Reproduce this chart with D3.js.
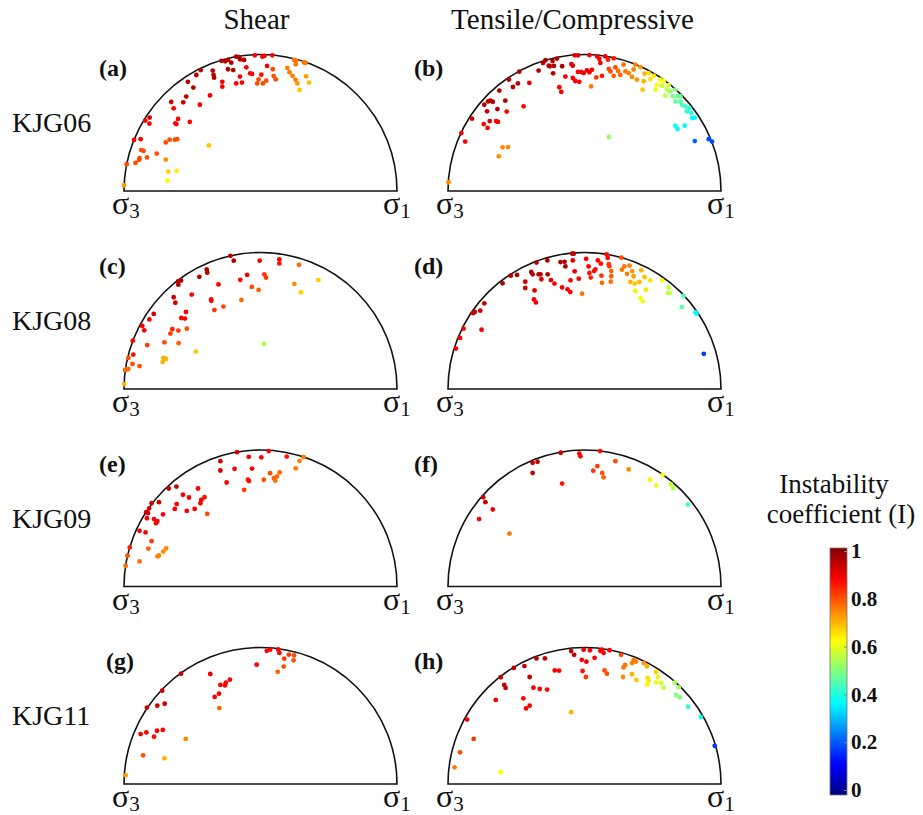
<!DOCTYPE html>
<html>
<head>
<meta charset="utf-8">
<script src="https://cdn.jsdelivr.net/npm/d3@7"></script>
<style>
  body { margin: 0; background: #fff; }
  svg { display: block; }
  text { font-family: "Liberation Serif", "Times New Roman", Times, serif; fill: #111; }
</style>
</head>
<body>
<div class="container"></div>
<script>
const w = 923
const h = 815
const r = 136.5

const colTitles = ["Shear", "Tensile/Compressive"]
const rowNames = ["KJG06", "KJG08", "KJG09", "KJG11"]
const panelLetters = ["(a)", "(b)", "(c)", "(d)", "(e)", "(f)", "(g)", "(h)"]
const barTicks = [0, 0.2, 0.4, 0.6, 0.8, 1]

// each point: [normal stress, % of the way from σ3 to σ1; shear stress, % of the diameter; instability coefficient I]
const shearKJG06 = [
  [35.7,47.7,.95],[37.1,47.5,.95],[38.1,48.0,.95],[39.3,47.0,.95],[41.1,49.2,.95],[42.1,49.0,.95],[42.6,48.2,.95],[44.0,48.0,.95],
  [47.9,49.7,.88],[50.7,49.2,.88],[51.5,49.5,.88],[54.3,49.7,.88],[44.8,45.3,.88],
  [38.1,44.6,.95],[40.0,44.3,.95],[32.5,44.1,.95],[28.1,44.3,.95],[26.5,42.5,.95],[32.8,42.5,.95],[33.0,41.5,.95],[23.4,40.0,.95],[25.4,37.9,.95],
  [36.0,40.0,.88],[36.0,38.2,.88],[42.5,41.9,.88],[41.1,39.4,.88],[43.2,39.7,.88],[46.2,43.1,.88],[46.9,42.9,.88],[52.4,45.8,.88],[50.3,42.6,.86],
  [49.3,40.9,.8],[48.8,39.4,.8],[50.9,39.4,.8],[52.1,40.4,.8],[54.5,44.6,.8],[54.8,42.1,.8],[55.6,40.9,.8],
  [31.5,35.0,.88],[27.8,31.6,.88],[22.8,34.6,.93],[21.7,32.5,.93],[17.3,32.6,.93],[18.2,30.3,.88],[19.8,26.4,.87],[18.8,24.8,.87],[19.2,24.5,.87],[24.1,25.3,.87],
  [7.8,25.8,.88],[9.4,26.9,.92],[9.3,24.7,.88],[6.1,19.0,.88],[3.7,18.7,.88],
  [15.3,17.8,.8],[16.7,18.8,.8],[18.6,18.8,.8],[19.5,19.0,.8],[6.3,15.0,.8],[7.2,14.7,.8],[5.7,12.0,.8],[5.5,11.4,.8],[4.2,10.3,.8],[8.4,12.3,.8],[12.0,13.7,.8],[1.0,9.8,.8],
  [15.3,11.5,.74],[31.1,16.7,.68],[16.2,7.1,.67],[19.3,7.4,.64],[15.9,3.8,.63],[0.0,2.1,.72],
  [62.3,48.0,.76],[63.1,47.7,.76],[62.9,46.4,.76],[65.9,47.1,.76],[66.5,46.9,.76],[59.8,45.1,.75],[60.6,43.5,.75],[61.7,42.2,.75],[62.8,40.8,.75],[63.5,39.4,.73],[66.7,42.0,.72],[67.8,39.7,.69],[64.3,37.0,.68]
]

const tensileKJG06 = [
  [0.2,3.2,.74],[4.9,21.2,.88],[6.3,18.1,.88],[8.8,26.5,.92],[13.1,24.5,.88],[14.5,23.1,.88],[15.3,25.6,.92],[17.6,25.6,.9],[18.3,25.3,.88],
  [14.3,29.2,.92],[13.3,31.6,.95],[14.7,32.8,.95],[15.5,33.1,.95],[16.4,32.7,.95],[18.1,30.0,.95],[18.8,36.8,.95],[21.0,33.1,.95],[21.5,29.1,.88],
  [22.3,40.8,.95],[23.8,38.1,.95],[25.6,39.4,.95],[26.1,43.7,.95],[27.7,31.0,.88],[29.8,39.6,.9],[33.2,44.1,.95],[34.8,46.9,.95],[35.7,47.9,.95],
  [36.9,45.9,.95],[37.3,45.7,.95],[38.3,47.6,.95],[38.8,45.8,.95],[38.5,43.1,.95],[39.9,48.5,.95],[41.8,45.7,.95],
  [40.8,38.0,.88],[41.5,36.3,.88],[43.0,41.9,.88],[45.2,46.5,.9],[45.7,45.9,.9],[46.4,49.7,.9],[47.6,49.7,.9],[45.7,41.4,.88],[46.6,40.3,.88],[48.1,40.0,.88],
  [47.6,43.6,.88],[48.8,43.6,.88],[49.7,43.2,.88],[50.9,44.2,.88],[51.8,49.8,.88],[51.8,43.5,.88],[52.7,44.4,.88],[54.6,49.3,.88],[55.4,48.4,.88],[55.8,46.9,.88],
  [54.3,41.6,.82],[52.4,38.3,.76],[56.4,42.2,.85],[57.6,49.3,.88],[58.6,48.1,.85],[58.9,44.7,.8],[59.5,43.8,.8],[60.7,48.6,.86],[60.7,42.2,.78],[61.3,45.3,.8],
  [62.3,44.0,.77],[63.1,42.5,.77],[64.3,46.3,.77],[65.0,43.8,.76],[66.2,43.2,.75],[67.4,41.8,.74],[68.0,44.5,.75],[68.6,46.3,.75],[69.2,40.8,.73],[70.5,45.4,.73],
  [71.7,40.2,.7],[71.3,37.1,.68],[72.0,43.0,.7],[73.5,43.2,.66],[74.1,41.0,.65],[75.4,42.2,.64],[76.0,37.1,.6],[76.6,38.9,.63],[77.8,40.8,.63],[79.0,40.2,.62],
  [79.6,34.9,.56],[80.2,37.1,.56],[81.4,36.5,.52],[82.3,34.7,.5],[83.3,37.1,.5],[84.2,34.7,.48],[85.1,32.8,.47],[85.7,31.6,.45],[86.9,31.0,.44],[87.5,29.2,.42],
  [88.4,30.4,.42],[89.1,28.6,.4],[89.4,26.7,.38],[90.4,26.9,.37],[83.3,23.9,.38],[84.1,22.7,.37],[86.7,23.9,.37],[90.4,18.3,.22],[95.5,19.0,.2],[96.7,18.1,.2],
  [58.9,19.8,.52],[20.0,16.0,.74],[22.0,16.1,.74],[18.6,12.7,.74],[78.4,38.5,.57],[80.8,38.8,.58],[83.3,32.8,.47],[85.1,34.7,.48]
]

const shearKJG08 = [
  [0.1,1.8,.7],[0.4,7.0,.77],[1.0,7.2,.77],[1.6,7.3,.77],[3.1,9.2,.8],[1.6,11.4,.8],[3.4,12.6,.86],[3.2,17.7,.88],[5.7,8.4,.8],[8.5,16.1,.82],
  [7.4,21.5,.88],[6.7,23.1,.88],[9.3,25.5,.88],[10.9,27.5,.92],[14.2,9.9,.7],[14.4,11.4,.7],[15.4,11.0,.7],[14.8,17.1,.8],[17.0,20.3,.82],[17.7,21.9,.85],
  [19.9,21.4,.82],[20.0,16.8,.78],[21.0,26.0,.88],[22.3,25.8,.87],[22.7,28.2,.88],[23.0,22.1,.8],[18.2,33.6,.92],[18.8,31.6,.92],[19.8,39.4,.95],[19.9,38.2,.95],
  [20.9,39.7,.95],[24.8,34.6,.88],[26.3,13.7,.68],[27.6,41.1,.95],[30.3,43.8,.95],[30.5,42.6,.95],[31.9,32.8,.88],[32.0,32.3,.88],[33.1,28.9,.82],[34.6,38.3,.88],
  [36.4,30.2,.8],[39.0,48.8,.95],[40.2,47.0,.95],[42.6,40.0,.88],[45.1,41.8,.88],[43.0,32.6,.77],[46.8,37.4,.8],[49.3,36.3,.78],[49.7,47.0,.88],[51.4,42.0,.82],
  [52.0,40.8,.82],[56.9,47.5,.88],[56.9,46.0,.86],[51.3,16.5,.55],[62.4,38.5,.73],[64.1,45.5,.77],[64.8,35.4,.67],[71.2,39.9,.67]
]

const tensileKJG08 = [
  [2.9,14.8,.88],[4.4,18.7,.88],[5.7,22.1,.88],[12.3,21.7,.88],[9.2,27.8,.92],[9.8,28.2,.92],[11.8,28.7,.92],[13.3,31.4,.92],[20.0,38.7,.95],[23.0,41.5,.95],
  [25.3,41.8,.95],[28.3,39.3,.92],[28.3,37.0,.92],[31.7,36.1,.9],[31.5,32.8,.88],[32.2,31.7,.88],[30.5,42.9,.95],[31.0,42.0,.95],[33.2,42.0,.95],[33.9,42.0,.95],
  [34.2,40.2,.9],[32.4,46.3,.95],[36.4,47.1,.95],[36.5,42.0,.95],[37.7,39.9,.9],[39.0,38.6,.88],[41.2,46.5,.95],[42.7,46.6,.95],[43.0,44.9,.95],[41.8,37.2,.88],
  [43.8,36.5,.88],[44.8,35.5,.88],[44.9,39.8,.88],[46.4,43.1,.9],[45.5,49.6,.95],[46.1,49.6,.95],[45.7,47.1,.9],[47.9,40.4,.88],[49.1,34.9,.76],[50.6,47.7,.88],
  [51.5,44.9,.88],[51.8,42.5,.86],[52.3,40.8,.84],[53.5,43.2,.86],[54.0,43.8,.86],[54.9,47.1,.88],[56.0,45.9,.86],[56.2,41.5,.82],[56.4,38.9,.77],[58.1,49.3,.87],
  [58.5,48.0,.87],[58.9,45.7,.82],[59.1,45.0,.82],[59.8,43.2,.78],[59.6,39.3,.77],[59.8,41.3,.78],[63.5,48.1,.8],[63.7,43.7,.76],[64.6,44.9,.76],[65.6,42.2,.75],
  [66.5,45.2,.75],[66.8,39.2,.7],[67.4,43.2,.73],[68.0,41.3,.72],[68.4,38.6,.68],[68.6,35.9,.64],[70.1,39.2,.69],[70.8,43.5,.7],[72.0,41.0,.69],[72.5,36.4,.65],
  [74.1,39.8,.65],[70.5,33.3,.63],[71.3,32.1,.6],[78.4,39.8,.62],[80.8,37.1,.57],[80.6,35.2,.56],[81.2,35.2,.56],[86.3,34.1,.46],[85.7,30.0,.46],[90.6,28.1,.38],
  [91.0,27.6,.38],[93.7,12.9,.18]
]

const shearKJG09 = [
  [0.6,7.6,.77],[1.3,11.3,.8],[2.1,14.3,.85],[5.7,9.2,.77],[5.7,20.4,.88],[7.9,19.8,.88],[10.1,16.6,.82],[8.9,13.9,.78],[12.3,11.0,.75],[12.8,11.4,.75],
  [14.4,12.8,.74],[15.4,14.0,.74],[8.4,25.0,.88],[8.1,27.2,.92],[8.8,26.9,.92],[9.2,28.6,.92],[10.1,30.5,.92],[11.0,24.7,.88],[11.7,23.2,.88],[12.2,23.9,.88],
  [14.3,26.4,.88],[12.8,30.9,.92],[16.4,35.9,.94],[19.2,36.6,.94],[18.6,28.4,.88],[19.3,30.2,.88],[21.6,33.6,.88],[23.8,32.6,.88],[23.0,27.7,.88],[25.9,28.4,.88],
  [27.1,35.9,.88],[28.0,30.5,.88],[28.3,31.7,.88],[29.5,32.7,.86],[30.5,26.6,.8],[35.3,45.9,.92],[35.3,42.5,.92],[37.6,38.1,.88],[40.5,43.1,.88],[41.4,49.2,.92],
  [45.7,47.5,.88],[46.9,43.2,.88],[45.4,39.1,.86],[45.8,38.6,.86],[44.0,35.4,.82],[50.3,47.3,.88],[53.0,49.6,.88],[51.2,39.1,.8],[53.5,41.5,.8],[54.9,39.7,.78],
  [55.4,38.8,.77],[56.0,40.3,.77],[57.0,41.8,.78],[59.6,47.6,.85],[62.9,43.3,.76],[64.3,46.0,.76],[65.8,47.4,.76]
]

const tensileKJG09 = [
  [11.4,24.7,.88],[12.9,32.7,.93],[13.7,30.9,.93],[16.4,28.2,.88],[22.5,19.4,.76],[31.0,45.3,.93],[32.8,45.7,.93],[31.0,41.6,.93],[41.3,49.0,.92],[41.8,37.7,.86],
  [48.1,48.7,.88],[48.5,47.7,.88],[55.7,49.6,.86],[53.2,42.4,.82],[54.7,44.1,.82],[56.5,41.6,.8],[57.0,40.0,.78],[61.3,45.9,.8],[66.2,42.9,.74],[74.0,39.1,.64],
  [76.3,37.0,.6],[78.6,40.9,.63],[81.6,37.5,.57],[82.4,36.0,.55],[87.9,30.0,.44]
]

const shearKJG11 = [
  [0.6,3.2,.72],[7.0,10.5,.8],[14.8,9.4,.7],[22.6,16.5,.74],[6.1,18.3,.88],[8.2,18.9,.88],[11.0,17.3,.86],[12.1,19.5,.88],[14.2,19.8,.88],[8.4,28.0,.92],
  [12.2,28.7,.92],[14.9,29.4,.92],[14.0,34.2,.93],[20.9,40.4,.93],[31.6,40.3,.9],[33.2,31.9,.88],[34.8,33.1,.88],[34.9,27.8,.78],[35.3,36.3,.88],[37.0,36.1,.88],
  [37.3,37.1,.88],[38.8,38.2,.88],[48.6,43.7,.88],[52.3,48.8,.88],[53.5,49.2,.88],[56.5,49.3,.88],[56.9,48.0,.87],[58.7,45.9,.82],[60.4,47.4,.82],[62.3,47.1,.8],
  [62.1,45.3,.8],[58.5,43.0,.8],[56.3,41.1,.78]
]

const tensileKJG11 = [
  [2.4,6.1,.76],[4.4,11.6,.8],[9.4,16.5,.82],[7.0,23.6,.88],[17.5,30.8,.88],[19.3,39.1,.93],[20.6,36.3,.93],[21.1,35.2,.93],[24.1,42.5,.94],[28.0,43.2,.94],
  [29.9,39.2,.93],[32.4,46.0,.94],[35.5,46.0,.94],[27.6,31.4,.88],[29.9,28.7,.88],[28.6,27.7,.88],[31.3,35.3,.88],[33.6,34.8,.88],[36.3,34.6,.87],[39.1,41.6,.88],
  [40.7,41.5,.88],[45.1,48.7,.93],[46.2,47.3,.93],[49.7,49.2,.9],[52.0,49.0,.88],[49.0,45.5,.88],[50.7,44.8,.88],[49.3,41.4,.86],[50.5,39.2,.82],[53.7,46.2,.88],
  [55.8,48.8,.88],[56.4,49.2,.88],[57.0,48.0,.87],[59.2,49.0,.87],[45.1,26.3,.7],[57.3,41.6,.8],[58.2,40.4,.8],[63.4,47.3,.8],[64.3,42.7,.76],[64.9,43.6,.76],
  [64.1,39.2,.74],[67.4,44.3,.75],[68.0,45.5,.75],[68.9,44.8,.75],[67.4,40.2,.7],[69.0,38.1,.68],[71.7,44.3,.73],[72.9,43.1,.7],[73.1,38.8,.66],[73.5,37.9,.65],
  [73.0,36.4,.64],[76.2,41.1,.67],[76.9,39.2,.64],[76.2,37.2,.6],[78.1,37.0,.58],[79.0,35.3,.56],[83.0,37.1,.54],[84.5,35.4,.53],[83.5,32.6,.5],[84.9,31.7,.5],
  [87.9,28.3,.42],[92.6,24.5,.38],[97.7,14.0,.18],[19.3,4.3,.63]
]

const panels = [shearKJG06, tensileKJG06, shearKJG08, tensileKJG08, shearKJG09, tensileKJG09, shearKJG11, tensileKJG11]

// MATLAB jet colormap
const jet = t => {
  const c = v => Math.max(0, Math.min(1, v))
  const rr = c(1.5 - Math.abs(4 * t - 3))
  const gg = c(1.5 - Math.abs(4 * t - 2))
  const bb = c(1.5 - Math.abs(4 * t - 1))
  return d3.rgb(rr * 255, gg * 255, bb * 255).formatHex()
}
const color = d3.scaleSequential(jet).domain([0, 1])

const colLeft = [124, 448]
const rowBase = [191, 389, 586.5, 784]

const svg = d3.select(".container")
              .append("svg")
              .attr("width", w)
              .attr("height", h)

svg.selectAll(".col-title")
   .data(colTitles)
   .enter()
   .append("text")
     .attr("class", "col-title")
     .attr("x", (d, i) => colLeft[i] + r - 4 - 8 * i)
     .attr("y", 29)
     .attr("text-anchor", "middle")
     .style("font-size", "29px")
     .text(d => d)

svg.selectAll(".row-name")
   .data(rowNames)
   .enter()
   .append("text")
     .attr("class", "row-name")
     .attr("x", 12)
     .attr("y", (d, i) => rowBase[i] - 59)
     .style("font-size", "28px")
     .text(d => d)

panels.forEach((data, k) => {
  const row = Math.floor(k / 2)
  const col = k % 2
  const x = d3.scaleLinear().domain([0, 100]).range([colLeft[col], colLeft[col] + 2 * r])
  const y = d3.scaleLinear().domain([0, 50]).range([rowBase[row], rowBase[row] - r])

  const g = svg.append("g").attr("class", "panel")

  const p = d3.path()
  p.moveTo(x(0), y(0))
  p.arc(x(50), y(0), x(100) - x(50), Math.PI, 2 * Math.PI)
  p.closePath()
  g.append("path")
     .attr("d", p.toString())
     .attr("fill", "none")
     .attr("stroke", "#111")
     .attr("stroke-width", 1.6)

  g.selectAll("circle")
     .data(data)
     .enter()
     .append("circle")
       .attr("cx", d => x(d[0]))
       .attr("cy", d => y(d[1]))
       .attr("r", 2.4)
       .style("fill", d => color(d[2]))

  g.append("text")
     .attr("x", col === 0 ? x(0) - 25 + (row === 3 ? 7 : 0) : x(0) - 34)
     .attr("y", y(0) - 115)
     .style("font-size", "24px")
     .style("font-weight", "bold")
     .text(panelLetters[k])

  const sig = [[0, "3", -12], [100, "1", -14]]
  sig.forEach(s => {
    const t = g.append("text")
               .attr("x", x(s[0]) + s[2])
               .attr("y", y(0) + 23)
               .style("font-size", "32px")
    t.append("tspan").text("σ")
    t.append("tspan").attr("dy", 4).style("font-size", "21px").text(s[1])
  })
})

// colour bar
const barX = 830
const barW = 17
const barScale = d3.scaleLinear().domain([0, 1]).range([790, 551])

const defs = svg.append("defs")
const grad = defs.append("linearGradient")
                 .attr("id", "jet-grad")
                 .attr("x1", 0).attr("y1", 1)
                 .attr("x2", 0).attr("y2", 0)
grad.selectAll("stop")
    .data(d3.range(0, 1.0001, 0.02))
    .enter()
    .append("stop")
      .attr("offset", d => d)
      .attr("stop-color", d => color(d))

svg.append("rect")
   .attr("x", barX)
   .attr("y", 548)
   .attr("width", barW)
   .attr("height", 247)
   .attr("fill", "url(#jet-grad)")
   .attr("stroke", "#777")
   .attr("stroke-width", 0.8)

const barAxis = d3.axisRight(barScale)
                  .tickValues(barTicks)
                  .tickSize(3)
                  .tickFormat(d => d === 0 || d === 1 ? d3.format("d")(d) : d3.format(".1f")(d))

svg.append("g")
   .attr("class", "bar-axis")
   .attr("transform", `translate(${barX + barW - 3}, 0)`)
   .call(barAxis)
   .call(a => a.select(".domain").remove())
   .call(a => a.selectAll("line").attr("stroke", "#888"))
   .call(a => a.selectAll("text")
               .attr("x", 7)
               .style("font-family", "'Liberation Serif', 'Times New Roman', serif")
               .style("font-size", "21px")
               .style("font-weight", "bold")
               .attr("fill", "#111"))

svg.append("text")
   .attr("x", 834)
   .attr("y", 493)
   .attr("text-anchor", "middle")
   .style("font-size", "27px")
   .text("Instability")

svg.append("text")
   .attr("x", 841)
   .attr("y", 523)
   .attr("text-anchor", "middle")
   .style("font-size", "27px")
   .text("coefficient (I)")
</script>
</body>
</html>
